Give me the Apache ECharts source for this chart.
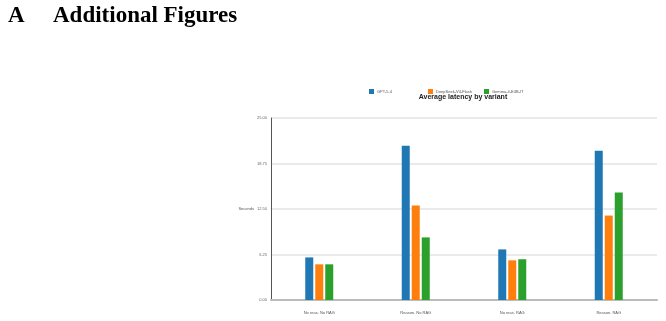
<!DOCTYPE html>
<html lang="en">
<head>
  <meta charset="UTF-8">
  <title>Average latency by variant</title>
  <script src="https://cdn.jsdelivr.net/npm/echarts@6/dist/echarts.min.js"></script>
  <style>
    body { margin: 0; background: #fff; }
    .page { position: relative; width: 666px; height: 321px; }
    .heading { position: absolute; left: 8px; top: 2px; font-family: "Liberation Serif", serif; font-weight: bold; font-size: 23px; color: #000; }
    .heading .num { display: inline-block; width: 45px; }
    #chart { position: absolute; left: 0; top: 0; width: 666px; height: 321px; }
  </style>
</head>
<body>
  <div class="page">
    <div id="chart"></div>
    <div class="heading"><span class="num">A</span>Additional Figures</div>
  </div>

  <script>
    // 数据
    const categories = ['No reas. No RAG', 'Reason. No RAG', 'No reas. RAG', 'Reason. RAG'];
    const gptValues = [5.85, 21.2, 6.95, 20.5];
    const deepseekValues = [4.9, 12.98, 5.45, 11.6];
    const gemmaValues = [4.9, 8.6, 5.6, 14.75];
    const seriesNames = ['GPT-5.4', 'DeepSeek-V4-Flash', 'Gemma-4-E4B-IT'];
    const colors = ['#1f77b4', '#ff7f0e', '#2ca02c'];

    const chart = echarts.init(document.getElementById('chart'));
    const font = 'Liberation Sans, Arial, sans-serif';

    // 每个图例单独放，位置跟原图一样
    const legendLefts = [369, 428, 484];
    const legends = seriesNames.map((name, i) => ({
      data: [name],
      left: legendLefts[i],
      top: 89,
      padding: 0,
      itemWidth: 5,
      itemHeight: 5,
      icon: 'rect',
      itemGap: 0,
      textStyle: { fontSize: 4, color: '#555', fontFamily: font, padding: [0, 0, 0, -2] }
    }));

    const bar = (name, data, i) => ({
      name: name,
      type: 'bar',
      data: data,
      barWidth: 8,
      barGap: '25%',
      itemStyle: { color: colors[i] }
    });

    chart.setOption({
      animation: false,
      color: colors,
      title: {
        text: 'Average latency by variant',
        left: 463,
        top: 94,
        padding: 0,
        textAlign: 'center',
        textStyle: { fontSize: 7, fontWeight: 'bold', color: '#222', fontFamily: font }
      },
      legend: legends,
      grid: { left: 271, right: 9, top: 118, bottom: 21, containLabel: false },
      xAxis: {
        type: 'category',
        data: categories,
        axisLine: { lineStyle: { color: '#bbb', width: 2 } },
        axisTick: { show: false },
        axisLabel: { fontSize: 4, color: '#555', margin: 11, fontFamily: font }
      },
      yAxis: {
        type: 'value',
        min: 0,
        max: 25,
        interval: 6.25,
        name: 'Seconds',
        nameLocation: 'middle',
        nameRotate: 0,
        nameGap: 17,
        nameMoveOverlap: false,
        nameTextStyle: { fontSize: 4, color: '#555', fontFamily: font },
        axisLine: { show: true, lineStyle: { color: '#555', width: 1 } },
        axisTick: { show: false },
        axisLabel: { fontSize: 4, color: '#666', margin: 4, fontFamily: font, formatter: v => v.toFixed(2) },
        splitLine: { lineStyle: { color: '#e3e3e3', width: 1.5 } }
      },
      series: [
        bar(seriesNames[0], gptValues, 0),
        bar(seriesNames[1], deepseekValues, 1),
        bar(seriesNames[2], gemmaValues, 2)
      ]
    });
  </script>
</body>
</html>
